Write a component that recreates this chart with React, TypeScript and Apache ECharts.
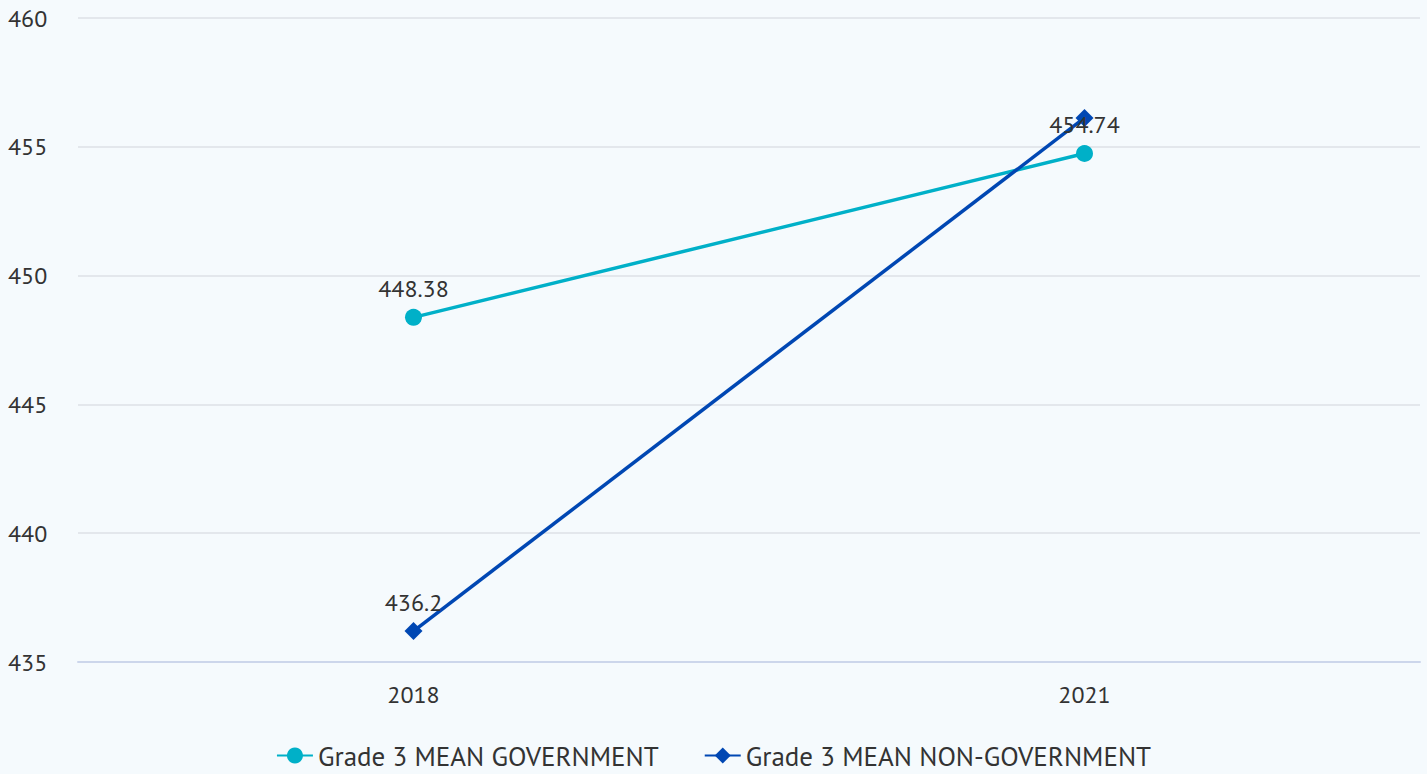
import React, { useEffect, useRef } from "react";
import * as echarts from "echarts";

const categories = ["2018", "2021"];
const govValues = [448.38, 454.74];
const nonGovValues = [436.2, 456.12];
const showNonGovLabel = [true, false];
const seriesNames = ["Grade 3 MEAN GOVERNMENT", "Grade 3 MEAN NON-GOVERNMENT"];

const FONT = "'PT Sans', 'Noto Sans', sans-serif";

export default function App() {
  const ref = useRef<HTMLDivElement>(null);
  useEffect(() => {
    if (!ref.current) return;
    const chart = echarts.init(ref.current, undefined, { renderer: "svg" });
    chart.setOption({
      animation: false,
      backgroundColor: "#f5fafd",
      textStyle: { fontFamily: FONT },
      grid: { left: 78, right: 7, top: 18, bottom: 112, containLabel: false },
      legend: {
        bottom: 0,
        left: "center",
        itemGap: 45,
        itemWidth: 36,
        itemHeight: 20,
        textStyle: { fontSize: 27, color: "#333", fontFamily: FONT },
        data: seriesNames,
      },
      xAxis: {
        type: "category",
        data: categories,
        boundaryGap: true,
        axisLine: { show: true, lineStyle: { color: "#ccd6eb", width: 2 } },
        axisTick: { show: false },
        axisLabel: { fontSize: 24, color: "#333", margin: 20, fontFamily: FONT },
      },
      yAxis: {
        type: "value",
        min: 435,
        max: 460,
        interval: 5,
        axisLine: { show: false },
        axisTick: { show: false },
        axisLabel: { fontSize: 24, color: "#333", margin: 70, align: "left", fontFamily: FONT },
        splitLine: { lineStyle: { color: "#e3e7ec", width: 2 } },
      },
      series: [
        {
          name: seriesNames[0],
          type: "line",
          data: govValues,
          symbol: "circle",
          symbolSize: 17,
          itemStyle: { color: "#00b0c8" },
          lineStyle: { color: "#00b0c8", width: 3.5 },
          label: { show: true, position: "top", distance: 8, fontSize: 24, color: "#333", fontFamily: FONT },
        },
        {
          name: seriesNames[1],
          type: "line",
          data: nonGovValues.map((v, i) => ({ value: v, label: { show: showNonGovLabel[i] } })),
          symbol: "diamond",
          symbolSize: 18,
          itemStyle: { color: "#0047b3" },
          lineStyle: { color: "#0047b3", width: 3.5 },
          label: { show: true, position: "top", distance: 8, fontSize: 24, color: "#333", fontFamily: FONT },
        },
      ],
    });
    return () => chart.dispose();
  }, []);
  return <div ref={ref} style={{ width: 1427, height: 774, position: "absolute", left: 0, top: 0 }} />;
}
